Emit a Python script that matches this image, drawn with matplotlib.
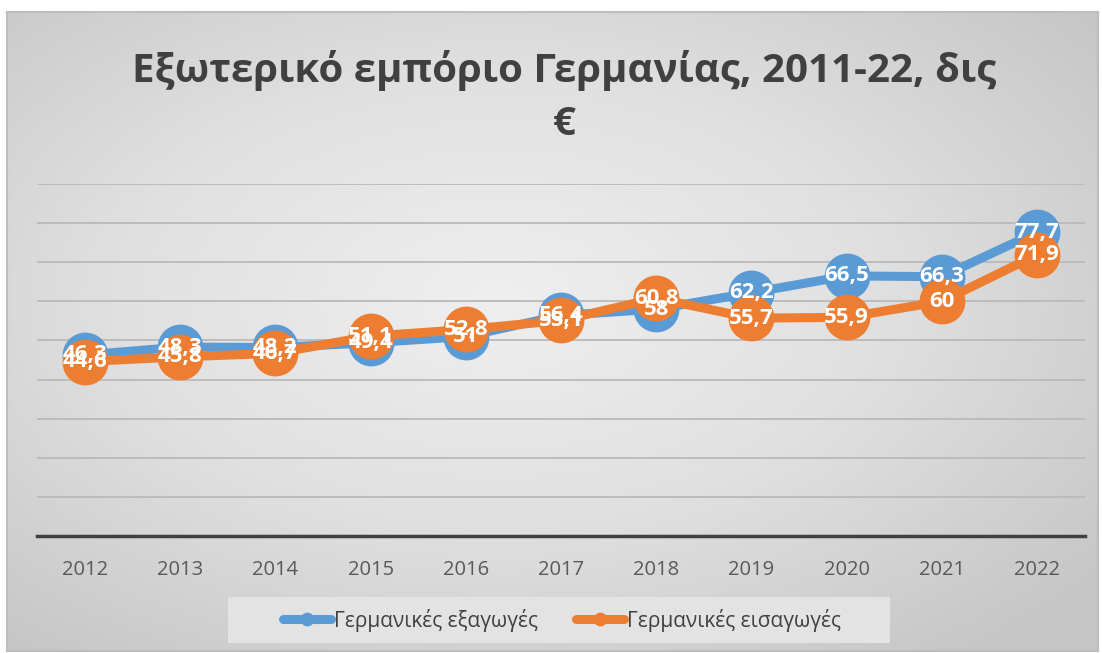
import numpy as np
import matplotlib.pyplot as plt
from matplotlib.colors import LinearSegmentedColormap
from matplotlib.patches import Rectangle

years = ['2012', '2013', '2014', '2015', '2016', '2017', '2018', '2019', '2020', '2021', '2022']
exports = [46.3, 48.3, 48.2, 49.4, 51, 56.4, 58, 62.2, 66.5, 66.3, 77.7]
imports = [44.6, 45.8, 46.7, 51.1, 52.8, 55.1, 60.8, 55.7, 55.9, 60, 71.9]
series_names = ['Γερμανικές εξαγωγές', 'Γερμανικές εισαγωγές']
title = 'Εξωτερικό εμπόριο Γερμανίας, 2011-22, δις\n€'

W, H = 1102, 653
plt.rcParams['font.family'] = ['Open Sans', 'DejaVu Sans']

def fx(px):
    return px / W

def fy(py):
    return 1 - py / H

fig = plt.figure(figsize=(W / 100, H / 100), dpi=100)
fig.patch.set_facecolor('white')

# gradient background of the chart area
bg = fig.add_axes([fx(7), fy(651), fx(1098) - fx(7), fy(12) - fy(651)])
yy, xx = np.mgrid[-1:1:300j, -1:1:500j]
r = np.sqrt((xx + 0.1) ** 2 + (yy + 0.1) ** 2) / np.sqrt(2)
cmap = LinearSegmentedColormap.from_list('bg', ['#efefef', '#e0e0e0', '#c6c6c6'])
bg.imshow(r, cmap=cmap, aspect='auto', extent=[0, 1, 0, 1], vmin=0, vmax=1)
bg.set_xticks([])
bg.set_yticks([])
for s in bg.spines.values():
    s.set_color('#bdbdbd')
    s.set_linewidth(1.5)

ax = fig.add_axes([fx(37.4), fy(536), fx(1084.6) - fx(37.4), fy(184) - fy(536)])
ax.patch.set_alpha(0)
x = np.arange(len(years))

ax.plot(x, exports, color='#5B9BD5', lw=6.5, marker='o', ms=33, mew=0,
        solid_capstyle='round', zorder=3, label=series_names[0])
ax.plot(x, imports, color='#ED7D31', lw=6.5, marker='o', ms=33, mew=0,
        solid_capstyle='round', zorder=4, label=series_names[1])

for vals in (exports, imports):
    for i, v in enumerate(vals):
        ax.text(i, v, ('%g' % v).replace('.', ','), color='white', fontsize=16,
                fontweight='bold', ha='center', va='center', zorder=6)

ax.set_xlim(-0.5, len(years) - 0.5)
ax.set_ylim(0, 90)
ax.set_yticks(np.arange(10, 91, 10))
ax.yaxis.grid(True, color='#bcbcbc', lw=1.4)
ax.set_axisbelow(True)
ax.tick_params(axis='y', left=False, labelleft=False)
ax.set_xticks(x)
ax.set_xticklabels(years, fontsize=14.5, color='#595959')
ax.tick_params(axis='x', length=0, pad=17)
for s in ['top', 'right', 'left']:
    ax.spines[s].set_visible(False)
ax.spines['bottom'].set_color('#404040')
ax.spines['bottom'].set_linewidth(2.5)

fig.text(fx(564), fy(97), title, fontsize=29, fontweight='bold', color='#404040',
         ha='center', va='center', linespacing=1.45)

# legend box
fig.patches.append(Rectangle((fx(228), fy(643)), fx(890) - fx(228), fy(597) - fy(643),
                             transform=fig.transFigure, facecolor='#e3e3e3',
                             edgecolor='none', zorder=1))
handles, labels = ax.get_legend_handles_labels()
leg = fig.legend(handles, labels, loc='center', bbox_to_anchor=(fx(562), fy(620)),
                 ncol=2, frameon=False, fontsize=15, handlelength=2.3,
                 handletextpad=0.15, columnspacing=1.8, markerscale=0.3)
for t in leg.get_texts():
    t.set_color('#404040')

fig.savefig('out.png', dpi=100)
